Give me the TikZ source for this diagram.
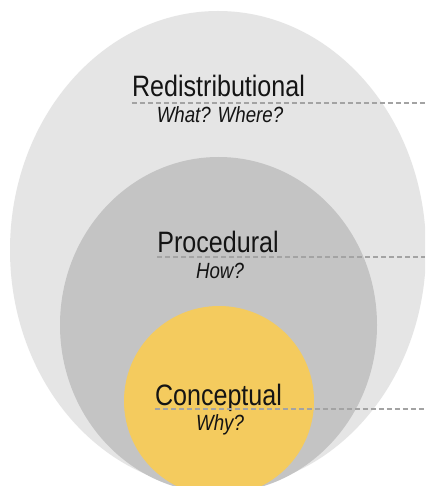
\documentclass[tikz,border=0pt]{standalone}
\usepackage{fontspec}
\setmainfont{Liberation Sans}[FakeStretch=0.85]
\usetikzlibrary{shapes.geometric}
\definecolor{Ink}{HTML}{141414}
\definecolor{Guide}{HTML}{A3A3A3}
\definecolor{OuterGray}{HTML}{E5E5E5}
\definecolor{MidGray}{HTML}{C4C4C4}
\definecolor{Core}{HTML}{F4CB5E}

\begin{document}
\begin{tikzpicture}[
  x=1pt,y=-1pt,
  every node/.style={inner sep=0pt,text=Ink},
  layer/.style={ellipse,draw=none},
  title/.style={anchor=base,font=\fontsize{29.5}{29.5}\selectfont},
  question/.style={anchor=base,font=\fontsize{22}{22}\selectfont\itshape},
  guide/.style={color=Guide,line width=1.8pt,dash pattern=on 5pt off 3pt}
]
\useasboundingbox (0,0) rectangle (425,486);
\clip (0,0) rectangle (425,486);
\fill[white] (0,0) rectangle (425,486);
\node[layer,fill=OuterGray,minimum width=416pt,minimum height=478pt] (redistributional) at (218,250) {};
\node[layer,fill=MidGray,minimum width=317pt,minimum height=336pt] (procedural) at (218.5,325) {};
\node[layer,fill=Core,minimum width=190pt,minimum height=190pt] (conceptual) at (219,401) {};
\node[title] (redTitle) at (218.5,97) {Redistributional};
\node[question] (redAsk) at (220,123) {What? Where?};
\node[title] (procTitle) at (218,252) {Procedural};
\node[question] (procAsk) at (220,278) {How?};
\node[title] (concTitle) at (218.5,405) {Conceptual};
\node[question] (concAsk) at (220,430) {Why?};
\coordinate (redEnd) at (425,103);
\coordinate (procEnd) at (425,257);
\coordinate (concEnd) at (425,409);
\draw[guide] (redTitle.west |- redEnd) -- (redEnd);
\draw[guide] (procTitle.west |- procEnd) -- (procEnd);
\draw[guide] (concTitle.west |- concEnd) -- (concEnd);
\end{tikzpicture}
\end{document}
